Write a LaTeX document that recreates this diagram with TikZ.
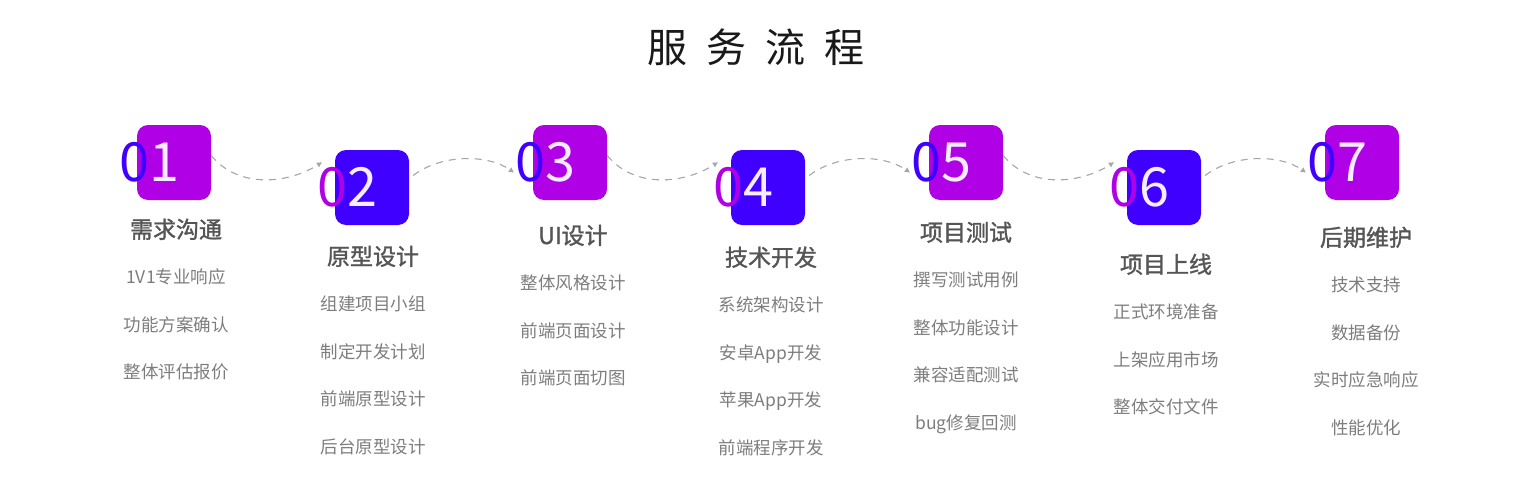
\documentclass[tikz,border=0pt]{standalone}
\usepackage{fontspec}
\setmainfont{Noto Sans CJK SC}
\newfontfamily\headfont[FakeBold=1.4]{Noto Sans CJK SC}
\usetikzlibrary{positioning,arrows.meta}
\definecolor{svpurple}{RGB}{175,0,230}
\definecolor{svblue}{RGB}{64,0,255}
\definecolor{svdigit}{RGB}{246,236,255}
\definecolor{svtitle}{RGB}{85,85,85}
\definecolor{svitem}{RGB}{125,125,125}
\definecolor{svdash}{RGB}{165,165,172}

\begin{document}
\begin{tikzpicture}[x=1pt,y=-1pt,
  numbox/.style={minimum width=74pt,minimum height=75pt,rounded corners=11pt,inner sep=0pt},
  numtxt/.style={inner sep=0pt,text=svdigit,font=\fontsize{54}{54}\selectfont},
  head/.style={inner sep=0pt,text=svtitle,font=\headfont\fontsize{23}{23}\selectfont,text height=20pt,text depth=4pt},
  item/.style={inner sep=0pt,text=svitem,font=\fontsize{17.5}{17.5}\selectfont,text height=14pt,text depth=3pt},
  flow/.style={svdash,line width=1.1pt,dash pattern=on 7pt off 6pt,-{Triangle[length=5pt,width=5pt]}},
  node distance=30pt]
  \useasboundingbox (0,0) rectangle (1516,479);
  \node[text=black!90,font=\fontsize{40}{40}\selectfont] (H) at (756,47)
    {服\hspace{19pt}务\hspace{19pt}流\hspace{19pt}程};

  % number boxes
  \node[numbox,fill=svpurple] (B1) at (174,162.5) {};
  \node[numbox,fill=svblue]   (B2) at (372,187.5) {};
  \node[numbox,fill=svpurple] (B3) at (570,162.5) {};
  \node[numbox,fill=svblue]   (B4) at (768,187.5) {};
  \node[numbox,fill=svpurple] (B5) at (966,162.5) {};
  \node[numbox,fill=svblue]   (B6) at (1164,187.5) {};
  \node[numbox,fill=svpurple] (B7) at (1362,162.5) {};
  \node[numtxt] (N1) at ([xshift=-25pt]B1.center) {\textcolor{svblue}{0}1};
  \node[numtxt] (N2) at ([xshift=-25pt]B2.center) {\textcolor{svpurple}{0}2};
  \node[numtxt] (N3) at ([xshift=-25pt]B3.center) {\textcolor{svblue}{0}3};
  \node[numtxt] (N4) at ([xshift=-25pt]B4.center) {\textcolor{svpurple}{0}4};
  \node[numtxt] (N5) at ([xshift=-25pt]B5.center) {\textcolor{svblue}{0}5};
  \node[numtxt] (N6) at ([xshift=-25pt]B6.center) {\textcolor{svpurple}{0}6};
  \node[numtxt] (N7) at ([xshift=-25pt]B7.center) {\textcolor{svblue}{0}7};

  % dashed links
  \draw[flow] ([yshift=7pt]B1.east) .. controls +(28,34) and +(-33,21) .. ([xshift=5pt,yshift=5pt]N2.north west);
  \draw[flow] ([xshift=4pt,yshift=12pt]B2.east) .. controls +(27,-21) and +(-27,-19) .. ([xshift=-1pt,yshift=-10pt]N3.west);
  \draw[flow] ([yshift=7pt]B3.east) .. controls +(28,34) and +(-33,21) .. ([xshift=5pt,yshift=5pt]N4.north west);
  \draw[flow] ([xshift=4pt,yshift=12pt]B4.east) .. controls +(27,-21) and +(-27,-19) .. ([xshift=-1pt,yshift=-10pt]N5.west);
  \draw[flow] ([yshift=7pt]B5.east) .. controls +(28,34) and +(-33,21) .. ([xshift=5pt,yshift=5pt]N6.north west);
  \draw[flow] ([xshift=4pt,yshift=12pt]B6.east) .. controls +(27,-21) and +(-27,-19) .. ([xshift=-1pt,yshift=-10pt]N7.west);

  % step 1
  \node[head] (T1) at (176,230) {需求沟通};
  \node[item,below=27.5pt of T1] (T1a) {1V1专业响应};
  \node[item,below=of T1a] (T1b) {功能方案确认};
  \node[item,below=of T1b] (T1c) {整体评估报价};
  % step 2
  \node[head] (T2) at (373,257) {原型设计};
  \node[item,below=27.5pt of T2] (T2a) {组建项目小组};
  \node[item,below=of T2a] (T2b) {制定开发计划};
  \node[item,below=of T2b] (T2c) {前端原型设计};
  \node[item,below=of T2c] (T2d) {后台原型设计};
  % step 3
  \node[head] (T3) at (573,236) {UI设计};
  \node[item,below=27.5pt of T3] (T3a) {整体风格设计};
  \node[item,below=of T3a] (T3b) {前端页面设计};
  \node[item,below=of T3b] (T3c) {前端页面切图};
  % step 4
  \node[head] (T4) at (771,258) {技术开发};
  \node[item,below=27.5pt of T4] (T4a) {系统架构设计};
  \node[item,below=of T4a] (T4b) {安卓App开发};
  \node[item,below=of T4b] (T4c) {苹果App开发};
  \node[item,below=of T4c] (T4d) {前端程序开发};
  % step 5
  \node[head] (T5) at (966,233) {项目测试};
  \node[item,below=27.5pt of T5] (T5a) {撰写测试用例};
  \node[item,below=of T5a] (T5b) {整体功能设计};
  \node[item,below=of T5b] (T5c) {兼容适配测试};
  \node[item,below=of T5c] (T5d) {bug修复回测};
  % step 6
  \node[head] (T6) at (1166,265) {项目上线};
  \node[item,below=27.5pt of T6] (T6a) {正式环境准备};
  \node[item,below=of T6a] (T6b) {上架应用市场};
  \node[item,below=of T6b] (T6c) {整体交付文件};
  % step 7
  \node[head] (T7) at (1366,238) {后期维护};
  \node[item,below=27.5pt of T7] (T7a) {技术支持};
  \node[item,below=of T7a] (T7b) {数据备份};
  \node[item,below=of T7b] (T7c) {实时应急响应};
  \node[item,below=of T7c] (T7d) {性能优化};
\end{tikzpicture}
\end{document}
